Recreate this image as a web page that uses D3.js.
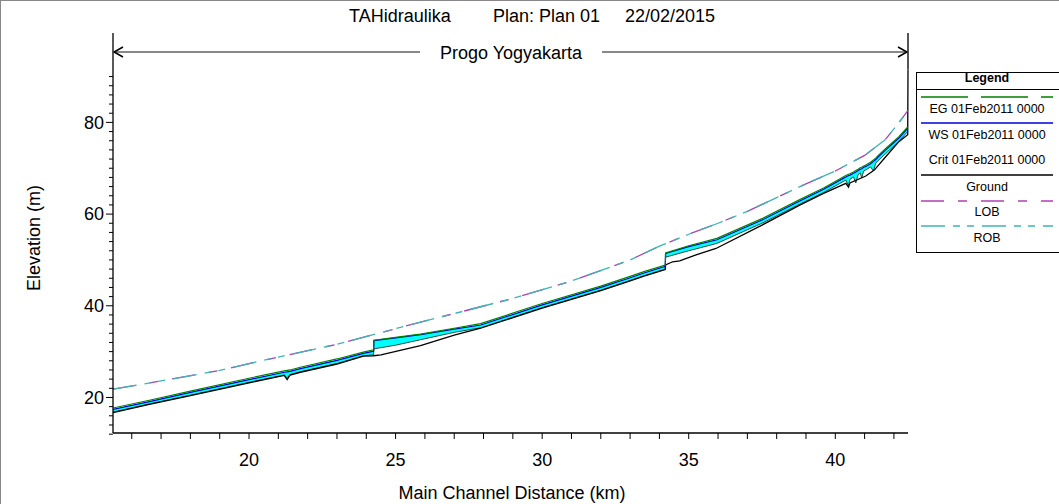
<!DOCTYPE html>
<html><head><meta charset="utf-8">
<script src="https://cdn.jsdelivr.net/npm/d3@7"></script>
<style>
html,body{margin:0;padding:0;background:#fff;}
svg{display:block;font-family:"Liberation Sans",Arial,sans-serif;}
</style></head>
<body>
<svg id="chart" width="1059" height="504"></svg>
<script>
// ---------- DATA ----------
const titleParts = ["TAHidraulika", "Plan: Plan 01", "22/02/2015"];
const reachName = "Progo Yogyakarta";
const xTickLabels = [20, 25, 30, 35, 40];
const yTickLabels = [20, 40, 60, 80];

// water profile stations (km)
const profKm = [15.36,16.6,18.0,20.0,21.2,21.3,21.4,21.75,23.0,23.9,24.25,24.26,25.0,25.85,27.0,27.9,30.0,32.0,32.9,33.5,34.2,34.21,35.0,35.96,37.5,38.77,39.6,40.3,40.36,40.45,40.5,40.62,40.7,40.78,40.85,40.9,40.97,41.04,41.2,41.3,41.38,41.45,41.72,42.17,42.47];
const wsElev = [17.4,19.1,21.1,23.9,25.5,25.6,25.7,26.3,28.1,29.6,30.1,32.4,33.0,33.7,34.9,35.8,40.2,44.0,45.9,47.2,48.6,51.4,52.9,54.4,58.7,62.8,65.4,67.9,68.1,68.4,68.5,68.9,69.2,69.5,69.8,69.9,70.2,70.4,71.0,71.5,71.9,72.4,74.0,76.6,78.7];
const egElev = [17.7,19.4,21.4,24.2,25.8,25.9,26.0,26.6,28.4,29.9,30.4,32.5,33.1,33.8,35.1,36.1,40.5,44.3,46.2,47.5,48.9,51.5,53.1,54.7,59.0,63.1,65.7,68.2,68.4,68.7,68.8,69.2,69.5,69.8,70.1,70.2,70.5,70.7,71.3,71.8,72.2,72.7,74.3,76.9,79.0];
const critElev = [16.8,18.6,20.5,23.3,24.9,24.3,25.0,25.6,27.4,29.1,29.3,30.6,31.4,32.6,34.2,35.2,39.6,43.4,45.3,46.6,48.0,50.6,52.0,53.6,58.0,62.1,64.7,67.2,67.4,66.2,67.6,68.1,66.8,68.6,69.0,67.9,69.4,69.6,70.3,69.4,71.1,71.6,73.2,75.9,78.0];

// ground (channel invert)
const groundKm = [15.36,16.6,18.0,20.0,21.2,21.3,21.4,21.75,23.0,23.9,24.25,24.5,25.85,27.0,27.9,30.0,32.0,32.9,33.5,34.2,34.21,34.45,34.69,35.25,35.93,37.5,38.77,39.6,40.36,40.45,40.5,41.04,41.33,41.72,42.17,42.47,42.48];
const groundElev = [16.7,18.5,20.4,23.2,24.8,23.9,24.9,25.5,27.3,29.0,29.1,29.3,31.3,33.6,35.1,39.5,43.3,45.2,46.5,47.9,48.9,49.6,49.8,51.1,52.5,57.6,61.9,64.5,66.7,65.9,66.8,68.3,69.6,72.5,75.8,77.3,91.5];

// bank stations
const bankKm = [15.36,17,19,20,21,23,25,27,29,31,33,34,35,36,37,38,39,40,41,41.7,42.2,42.48];
const lobElev = [21.8,23.6,25.9,27.4,28.8,31.6,35.0,38.3,41.6,45.4,50.0,53.0,55.6,58.0,60.6,63.6,66.6,69.4,72.8,76.2,80.2,82.6];
const robElev = [21.8,23.6,25.9,27.4,28.8,31.6,35.0,38.3,41.6,45.4,50.0,53.0,55.6,58.0,60.6,63.6,66.6,69.4,72.8,76.2,80.2,82.6];

const legendLabels = ["EG  01Feb2011 0000","WS  01Feb2011 0000","Crit  01Feb2011 0000","Ground","LOB","ROB"];

// ---------- LAYOUT ----------
const svg = d3.select("#chart");
const L = 113, R = 908, T = 33, B = 433;
const x = d3.scaleLinear().domain([15.36, 42.48]).range([L, R]);
const y = d3.scaleLinear().domain([12.25, 99.5]).range([B, T]);

const col = {eg:"#008000", ws:"#0000e0", ground:"#000", lob:"#b040b0", rob:"#40b4b4", fill:"#00ffff"};
const dashLob = "23,14,9,14", dashRob = "24,8,7,7,7,8", dashEg = "47,13";

// frame
svg.append("line").attr("x1",0.5).attr("x2",0.5).attr("y1",0).attr("y2",504).attr("stroke","#888");
svg.append("line").attr("x1",0).attr("x2",1059).attr("y1",0.5).attr("y2",0.5).attr("stroke","#888");

// title
const tx = [349, 493, 625];
titleParts.forEach((t,i)=>{
  svg.append("text").attr("x",tx[i]).attr("y",22).attr("font-size",18).attr("fill","#000").text(t);
});

// clip
svg.append("defs").append("clipPath").attr("id","clip").append("rect")
  .attr("x",L).attr("y",T).attr("width",R-L+2).attr("height",B-T);
const g = svg.append("g").attr("clip-path","url(#clip)");

// water fill
const idx = d3.range(profKm.length);
g.append("path").datum(idx)
  .attr("d", d3.area().x(i=>x(profKm[i])).y0(i=>y(critElev[i])).y1(i=>y(wsElev[i])))
  .attr("fill", col.fill).attr("stroke","none");
// lower edge of the water band
g.append("path").datum(idx)
  .attr("d", d3.line().x(i=>x(profKm[i])).y(i=>y(critElev[i])))
  .attr("fill","none").attr("stroke","#1b3b2b").attr("stroke-width",0.9);

// ground
const gidx = d3.range(groundKm.length);
g.append("path").datum(gidx)
  .attr("d", d3.line().x(i=>x(groundKm[i])).y(i=>y(groundElev[i])))
  .attr("fill","none").attr("stroke",col.ground).attr("stroke-width",1.3);

// WS
g.append("path").datum(idx)
  .attr("d", d3.line().x(i=>x(profKm[i])).y(i=>y(wsElev[i])))
  .attr("fill","none").attr("stroke",col.ws).attr("stroke-width",1.2);
// EG
g.append("path").datum(idx)
  .attr("d", d3.line().x(i=>x(profKm[i])).y(i=>y(egElev[i])))
  .attr("fill","none").attr("stroke",col.eg).attr("stroke-width",1.2);

// banks
const bidx = d3.range(bankKm.length);
g.append("path").datum(bidx)
  .attr("d", d3.line().x(i=>x(bankKm[i])).y(i=>y(lobElev[i])))
  .attr("fill","none").attr("stroke",col.lob).attr("stroke-width",1.3).attr("stroke-dasharray",dashLob);
g.append("path").datum(bidx)
  .attr("d", d3.line().x(i=>x(bankKm[i])).y(i=>y(robElev[i])))
  .attr("fill","none").attr("stroke",col.rob).attr("stroke-width",1.3).attr("stroke-dasharray",dashRob);

// reach boundaries
const gMax = d3.max(groundElev);
svg.append("line").attr("x1",L).attr("x2",L).attr("y1",T).attr("y2",B).attr("stroke","#000").attr("stroke-width",1.3);
svg.append("line").attr("x1",R).attr("x2",R).attr("y1",T).attr("y2",y(gMax)).attr("stroke","#555").attr("stroke-width",2);

// reach arrow
const ay = 52;
svg.append("line").attr("x1",L).attr("x2",420).attr("y1",ay).attr("y2",ay).attr("stroke","#888").attr("stroke-width",2);
svg.append("line").attr("x1",602).attr("x2",R).attr("y1",ay).attr("y2",ay).attr("stroke","#888").attr("stroke-width",2);
svg.append("path").attr("d",`M${L+10},${ay-5}L${L+1},${ay}L${L+10},${ay+5}`).attr("fill","none").attr("stroke","#000").attr("stroke-width",1.5);
svg.append("path").attr("d",`M${R-10},${ay-5}L${R-1},${ay}L${R-10},${ay+5}`).attr("fill","none").attr("stroke","#000").attr("stroke-width",1.5);
svg.append("text").attr("x",511).attr("y",ay+6.5).attr("text-anchor","middle").attr("font-size",18).text(reachName);

// axes
const xAxisG = svg.append("g").attr("transform",`translate(0,${B})`);
xAxisG.append("line").attr("x1",L).attr("x2",R).attr("y1",0).attr("y2",0).attr("stroke","#000").attr("stroke-width",1.3);
const xMinor = d3.range(16, 43, 1);
xAxisG.selectAll("line.tk").data(xMinor).join("line").attr("class","tk")
  .attr("x1",d=>x(d)).attr("x2",d=>x(d)).attr("y1",0).attr("y2",6).attr("stroke","#000");
xAxisG.selectAll("text").data(xTickLabels).join("text")
  .attr("x",d=>x(d)).attr("y",33).attr("text-anchor","middle").attr("font-size",18).text(d=>d);

const yAxisG = svg.append("g");
const yMinor = d3.range(12, 91, 2);
yAxisG.selectAll("line.tk").data(yMinor).join("line").attr("class","tk")
  .attr("x1",d=>yTickLabels.includes(d)?L-7:L-4).attr("x2",L)
  .attr("y1",d=>y(d)).attr("y2",d=>y(d)).attr("stroke","#000");
yAxisG.selectAll("text").data(yTickLabels).join("text")
  .attr("x",L-9).attr("y",d=>y(d)).attr("dy","0.35em").attr("text-anchor","end").attr("font-size",18).text(d=>d);

svg.append("text").attr("x",512).attr("y",499).attr("text-anchor","middle").attr("font-size",18).text("Main Channel Distance (km)");
svg.append("text").attr("transform","translate(40,238) rotate(-90)").attr("text-anchor","middle").attr("font-size",18).text("Elevation (m)");

// legend
const lg = svg.append("g");
const LX = 916, LT = 72, LB = 252;
lg.append("rect").attr("x",LX+0.5).attr("y",LT+0.5).attr("width",160).attr("height",LB-LT).attr("fill","#fff").attr("stroke","#000");
lg.append("line").attr("x1",LX).attr("x2",1059).attr("y1",89.5).attr("y2",89.5).attr("stroke","#000");
lg.append("text").attr("x",987).attr("y",78).attr("dy","0.35em").attr("text-anchor","middle").attr("font-size",12.5).attr("font-weight","bold").text("Legend");
const legY = [109,135,160,187,212,238];
legendLabels.forEach((t,i)=>{
  lg.append("text").attr("x",987).attr("y",legY[i]).attr("dy","0.35em").attr("text-anchor","middle").attr("font-size",12.5).text(t);
});
const legLines = [
  {y:97, c:col.eg, d:dashEg},
  {y:123, c:col.ws, d:null},
  {y:175, c:col.ground, d:null},
  {y:201, c:col.lob, d:dashLob},
  {y:226, c:col.rob, d:dashRob}
];
legLines.forEach(s=>{
  const ln = lg.append("line").attr("x1",921).attr("x2",1053).attr("y1",s.y).attr("y2",s.y)
    .attr("stroke",s.c).attr("stroke-width",1.3);
  if(s.d) ln.attr("stroke-dasharray",s.d);
});
</script>
</body></html>
